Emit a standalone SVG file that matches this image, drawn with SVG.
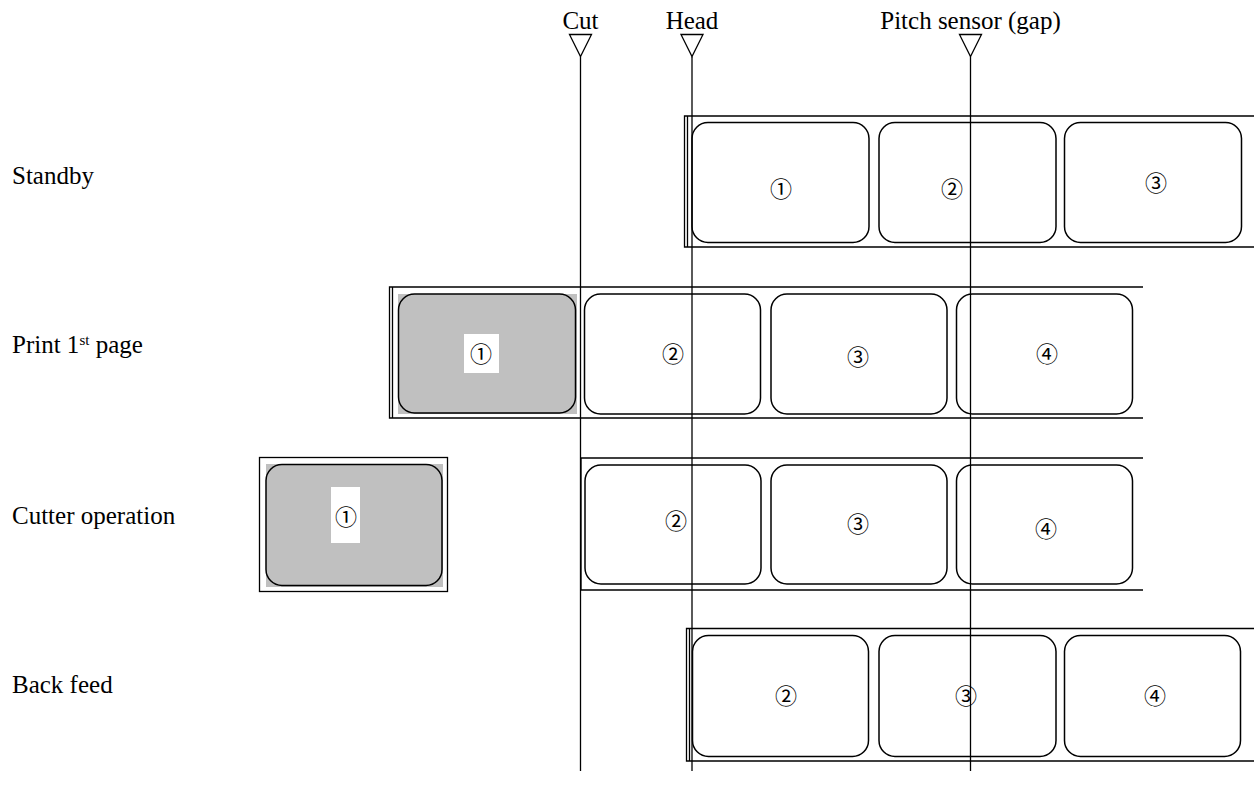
<svg xmlns="http://www.w3.org/2000/svg" width="1254" height="798" viewBox="0 0 1254 798">
<style>
.t{font-family:"Liberation Serif","Times New Roman",serif;font-size:25px;fill:#000}
.n{font-family:"Noto Sans CJK JP","DejaVu Sans",sans-serif;font-size:22px;fill:#000;text-anchor:middle;dominant-baseline:central}
.ln{stroke:#000;stroke-width:1.3;fill:none}
.lb{stroke:#000;stroke-width:1.5;fill:#fff}
.g{fill:#c0c0c0}
.w{fill:#fff}
</style>
<rect width="1254" height="798" fill="#fff"/>

<g id="row-labels">
<text class="t" x="12" y="184">Standby</text>
<text class="t" x="12" y="353">Print 1<tspan font-size="15" baseline-shift="super">st</tspan> page</text>
<text class="t" x="12" y="524">Cutter operation</text>
<text class="t" x="12" y="693">Back feed</text>
</g>

<g id="standby">
<path class="ln" d="M1254 116H684.5V247H1254M687.5 116V247"/>
<rect class="lb" x="692" y="122.5" width="177" height="120" rx="16"/>
<rect class="lb" x="879" y="122.5" width="177" height="120" rx="16"/>
<rect class="lb" x="1064.5" y="122.5" width="177" height="120" rx="16"/>
<text class="n" x="781" y="187">①</text>
<text class="n" x="952" y="187">②</text>
<text class="n" x="1156" y="181">③</text>
</g>

<g id="print-first-page">
<path class="ln" d="M1143 287H389.5V418H1143M392.5 287V418"/>
<rect class="g" x="398" y="294" width="179" height="120"/>
<rect class="lb" x="398.5" y="294" width="177" height="119" rx="16" style="fill:#c0c0c0"/>
<rect class="w" x="464" y="334" width="35" height="39"/>
<text class="n" x="481" y="352">①</text>
<rect class="lb" x="584.5" y="294" width="176" height="120" rx="16"/>
<rect class="lb" x="771" y="294" width="176" height="120" rx="16"/>
<rect class="lb" x="956.5" y="294" width="176" height="120" rx="16"/>
<text class="n" x="673" y="352">②</text>
<text class="n" x="858" y="355">③</text>
<text class="n" x="1047" y="352">④</text>
</g>

<g id="cutter-operation">
<rect class="ln" x="259.5" y="457.5" width="188" height="134"/>
<rect class="g" x="266" y="464" width="177" height="123"/>
<rect class="lb" x="266" y="464.5" width="176" height="121" rx="16" style="fill:#c0c0c0"/>
<rect class="w" x="331" y="487" width="29" height="56"/>
<text class="n" x="346" y="515">①</text>
<path class="ln" d="M1143 458H581V590H1143"/>
<rect class="lb" x="585" y="465" width="176" height="119" rx="16"/>
<rect class="lb" x="771" y="465" width="176" height="119" rx="16"/>
<rect class="lb" x="956.5" y="465" width="176" height="119" rx="16"/>
<text class="n" x="676" y="519">②</text>
<text class="n" x="858" y="522">③</text>
<text class="n" x="1046" y="527">④</text>
</g>

<g id="back-feed">
<path class="ln" d="M1254 628.5H686.5V761H1254M689.5 628.5V761"/>
<rect class="lb" x="692.5" y="635.5" width="176" height="121" rx="16"/>
<rect class="lb" x="879" y="635.5" width="177" height="121" rx="16"/>
<rect class="lb" x="1064.5" y="635.5" width="176" height="121" rx="16"/>
<text class="n" x="786" y="694">②</text>
<text class="n" x="966" y="694">③</text>
<text class="n" x="1155" y="694">④</text>
</g>

<g id="connectors">
<g id="cut-marker">
<text class="t" x="580.5" y="28.5" text-anchor="middle">Cut</text>
<path class="ln" d="M569.5 34.5H591.5L580.5 56.5Z"/>
<path class="ln" d="M580.5 56.5V771"/>
</g>
<g id="head-marker">
<text class="t" x="692" y="28.5" text-anchor="middle">Head</text>
<path class="ln" d="M681 34.5H703L692 56.5Z"/>
<path class="ln" d="M692 56.5V771"/>
</g>
<g id="pitch-sensor-marker">
<text class="t" x="970.5" y="28.5" text-anchor="middle">Pitch sensor (gap)</text>
<path class="ln" d="M959.5 34.5H981.5L970.5 56.5Z"/>
<path class="ln" d="M970.5 56.5V771"/>
</g>
</g>
</svg>
